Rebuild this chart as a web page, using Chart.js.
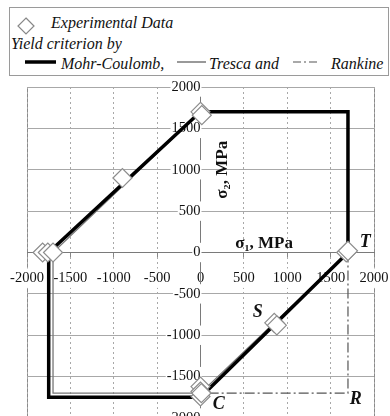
<!DOCTYPE html>
<html>
<head>
<meta charset="utf-8">
<script src="https://cdn.jsdelivr.net/npm/chart.js@4.4.1/dist/chart.umd.min.js"></script>
<style>
  html,body{margin:0;padding:0;background:#fff;overflow:hidden;}
  #wrap{position:relative;width:390px;height:416px;overflow:hidden;}
  #c{position:absolute;left:-15px;top:0;}
  #legend{position:absolute;left:9px;top:7px;width:378px;height:67px;border:1px solid #9a9a9a;background:#fff;
    font-family:'Liberation Serif',serif;font-style:italic;font-size:16px;color:#111;}
  #legend .row{position:absolute;white-space:nowrap;}
  .sw{position:absolute;}
</style>
</head>
<body>
<div id="wrap">
  <canvas id="c" width="420" height="430"></canvas>
  <div id="legend">
    <svg class="sw" style="left:7px;top:9px" width="18" height="18"><polygon points="9,1 17,9 9,17 1,9" fill="#fff" stroke="#888" stroke-width="1.2"/></svg>
    <div class="row" style="left:41px;top:6px">Experimental Data</div>
    <div class="row" style="left:1px;top:27px">Yield criterion by</div>
    <svg class="sw" style="left:15px;top:51px" width="32" height="6"><line x1="0" y1="3" x2="31" y2="3" stroke="#000" stroke-width="3.5"/></svg>
    <div class="row" style="left:51px;top:47px">Mohr-Coulomb,</div>
    <svg class="sw" style="left:167px;top:51px" width="30" height="6"><line x1="0" y1="3" x2="29" y2="3" stroke="#555" stroke-width="1.2"/></svg>
    <div class="row" style="left:199px;top:47px">Tresca and</div>
    <svg class="sw" style="left:283px;top:51px" width="26" height="6"><line x1="0" y1="3" x2="25" y2="3" stroke="#555" stroke-width="1.2" stroke-dasharray="8,3,2,3"/></svg>
    <div class="row" style="left:321px;top:47px">Rankine</div>
  </div>
</div>
<script>
// ---- data ----
const tickValues = [-2000, -1500, -1000, -500, 0, 500, 1000, 1500, 2000];
const mohrX = [0, 1700, 1700, 0, -1750, -1750, 0];
const mohrY = [1700, 1700, 0, -1750, -1750, 0, 1700];
const trescaX = [0, 1700, 1700, 0, -1700, -1700, 0];
const trescaY = [1700, 1700, 0, -1700, -1700, 0, 1700];
const rankineX = [1700, 1700, 0];
const rankineY = [0, -1700, -1700];
const expX = [0, 15, -900, -1820, -1760, -1700, 1680, 1700, 850, 880, 0, 0, 0, 10];
const expY = [1700, 1660, 900, 0, 0, 0, 0, 20, -850, -880, -1620, -1680, -1740, -1700];

const toPts = (xs, ys) => xs.map((x, i) => ({x: x, y: ys[i]}));

const serif = "'Liberation Serif', serif";
Chart.defaults.font.family = serif;

const frame = {
  id: 'frame',
  beforeDraw(chart) {
    const a = chart.chartArea, ctx = chart.ctx;
    ctx.save();
    ctx.strokeStyle = '#8a8a8a';
    ctx.lineWidth = 1;
    ctx.strokeRect(Math.round(a.left) + 0.5, Math.round(a.top) + 0.5, Math.round(a.right - a.left), Math.round(a.bottom - a.top) + 2);
    ctx.restore();
  },
  afterDraw(chart) {
    const ctx = chart.ctx, sx = chart.scales.x, sy = chart.scales.y;
    ctx.save();
    ctx.fillStyle = '#111';
    ctx.textBaseline = 'middle';
    ctx.font = 'bold 17px ' + serif;
    ctx.textAlign = 'left';
    ctx.fillText('σ₁, MPa', sx.getPixelForValue(400), sy.getPixelForValue(110));
    ctx.save();
    ctx.translate(sx.getPixelForValue(260), sy.getPixelForValue(1000));
    ctx.rotate(-Math.PI / 2);
    ctx.textAlign = 'center';
    ctx.fillText('σ₂, MPa', 0, 0);
    ctx.restore();
    ctx.font = 'bold italic 18px ' + serif;
    ctx.textAlign = 'center';
    ctx.fillText('T', sx.getPixelForValue(1900), sy.getPixelForValue(120));
    ctx.fillText('S', sx.getPixelForValue(660), sy.getPixelForValue(-720));
    ctx.fillText('C', sx.getPixelForValue(210), sy.getPixelForValue(-1840));
    ctx.fillText('R', sx.getPixelForValue(1790), sy.getPixelForValue(-1780));
    ctx.restore();
  }
};

const tickFont = {family: serif, size: 14.5};

new Chart(document.getElementById('c'), {
  type: 'scatter',
  data: {
    datasets: [
      {label: 'Experimental Data', data: toPts(expX, expY), pointStyle: 'rectRot', pointRadius: 9.5,
        borderColor: '#8c8c8c', backgroundColor: '#fff', borderWidth: 1.2, showLine: false, order: 0},
      {label: 'Rankine', data: toPts(rankineX, rankineY), showLine: true, pointRadius: 0,
        borderColor: '#555', borderWidth: 1.2, borderDash: [10, 3, 2, 3], order: 3},
      {label: 'Tresca', data: toPts(trescaX, trescaY), showLine: true, pointRadius: 0,
        borderColor: '#777', borderWidth: 1.3, order: 2},
      {label: 'Mohr-Coulomb', data: toPts(mohrX, mohrY), showLine: true, pointRadius: 0,
        borderColor: '#000', borderWidth: 3.5, borderJoinStyle: 'miter', order: 1}
    ]
  },
  options: {
    responsive: false,
    animation: false,
    events: [],
    layout: {padding: {left: 42, right: 31, top: 87, bottom: 12}},
    plugins: {legend: {display: false}, tooltip: {enabled: false}},
    scales: {
      x: {
        type: 'linear', min: -2000, max: 2000, position: {y: 0},
        afterBuildTicks: (s) => { s.ticks = tickValues.map(v => ({value: v})); },
        grid: {color: '#a8a8a8', lineWidth: 1, drawTicks: true, tickLength: 4, tickColor: '#888'},
        border: {display: true, color: '#7a7a7a', width: 1, dash: [2, 3]},
        ticks: {font: tickFont, color: '#111', padding: 13, maxRotation: 0, autoSkip: false,
          callback: (v) => String(v),
          showLabelBackdrop: true, backdropColor: '#fff', backdropPadding: 1}
      },
      y: {
        type: 'linear', min: -2000, max: 2000, position: {x: 0},
        afterBuildTicks: (s) => { s.ticks = tickValues.map(v => ({value: v})); },
        grid: {color: '#a8a8a8', lineWidth: 1, drawTicks: true, tickLength: 4, tickColor: '#888'},
        border: {display: true, color: '#7a7a7a', width: 1},
        ticks: {font: tickFont, color: '#111', padding: 2, autoSkip: false,
          callback: (v) => String(v),
          showLabelBackdrop: true, backdropColor: '#fff', backdropPadding: 1}
      }
    }
  },
  plugins: [frame]
});
</script>
</body>
</html>
